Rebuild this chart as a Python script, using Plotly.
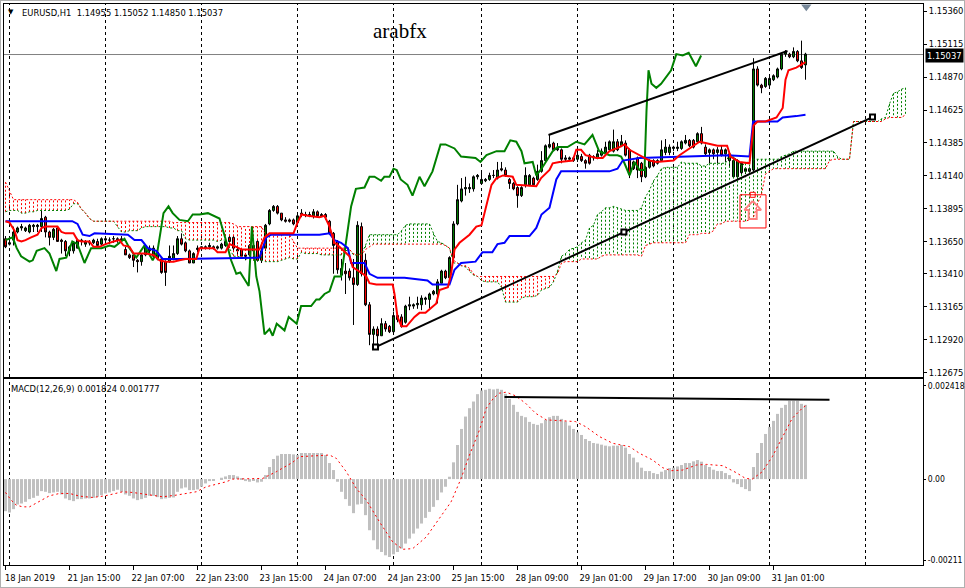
import plotly.graph_objects as go

# ---------- data (prices in pips, 1 pip = 0.0001) ----------
OPEN = [11367,11363,11366,11372,11375,11373,11372,11376,11376,11376,
11383,11372,11368,11375,11366,11365,11358,11358,11360,11365,
11363,11364,11364,11365,11363,11366,11366,11367,11367,11367,
11359,11355,11355,11351,11350,11355,11360,11354,11352,11352,
11350,11350,11352,11356,11367,11364,11358,11349,11359,11360,
11360,11361,11360,11360,11360,11362,11365,11368,11359,11359,
11355,11355,11362,11365,11351,11360,11378,11388,11391,11386,
11381,11381,11381,11379,11385,11385,11385,11384,11387,11385,
11385,11380,11371,11365,11340,11343,11343,11338,11333,11376,
11351,11318,11296,11300,11295,11304,11302,11298,11310,11309,
11305,11317,11317,11318,11318,11322,11322,11326,11326,11334,
11343,11338,11353,11378,11395,11404,11404,11404,11413,11408,
11410,11411,11414,11412,11419,11418,11411,11408,11405,11399,
11407,11407,11412,11411,11417,11425,11435,11438,11433,11433,
11427,11426,11425,11426,11428,11425,11429,11428,11427,11429,
11431,11433,11432,11439,11436,11438,11433,11424,11427,11423,
11413,11420,11425,11423,11425,11431,11431,11434,11434,11434,
11438,11440,11440,11439,11445,11435,11431,11433,11431,11433,
11430,11430,11413,11413,11416,11417,11419,11418,11493,11481,
11480,11481,11485,11487,11493,11504,11504,11502,11506,11499,11496]
HIGH = [11369,11368,11376,11376,11378,11376,11378,11378,11378,11388,
11384,11373,11375,11376,11367,11366,11362,11365,11367,11367,
11366,11366,11367,11367,11368,11369,11368,11369,11368,11369,
11361,11356,11356,11352,11356,11363,11362,11362,11360,11353,
11351,11362,11362,11369,11371,11365,11359,11357,11362,11361,
11362,11364,11362,11362,11364,11366,11369,11369,11362,11360,
11356,11363,11363,11366,11360,11378,11389,11392,11392,11386,
11383,11382,11382,11385,11389,11387,11387,11389,11388,11386,
11386,11381,11372,11366,11352,11349,11345,11352,11380,11379,
11356,11320,11302,11302,11308,11306,11303,11313,11312,11311,
11318,11324,11319,11324,11325,11324,11327,11329,11337,11344,
11344,11354,11380,11407,11412,11413,11408,11414,11415,11417,
11412,11416,11418,11424,11424,11420,11412,11409,11406,11406,
11420,11415,11413,11422,11432,11437,11444,11439,11438,11434,
11429,11428,11428,11433,11430,11426,11430,11429,11433,11434,
11439,11440,11448,11441,11444,11440,11434,11425,11428,11424,
11421,11426,11426,11426,11440,11441,11437,11436,11439,11440,
11444,11441,11441,11446,11450,11437,11434,11434,11435,11436,
11434,11431,11426,11426,11424,11420,11420,11501,11495,11482,
11487,11487,11489,11494,11505,11507,11505,11509,11507,11514,11505]
LOW = [11360,11362,11362,11371,11373,11372,11371,11372,11372,11372,
11368,11362,11366,11365,11356,11354,11354,11356,11360,11362,
11361,11362,11363,11361,11362,11363,11363,11364,11364,11364,
11355,11352,11346,11342,11347,11354,11354,11352,11351,11341,
11332,11349,11351,11355,11362,11357,11349,11349,11357,11358,
11359,11359,11359,11359,11359,11361,11364,11358,11354,11352,
11351,11354,11351,11350,11349,11358,11377,11387,11385,11380,
11379,11379,11377,11378,11383,11383,11383,11382,11383,11383,
11381,11370,11341,11341,11336,11326,11336,11303,11332,11339,
11317,11288,11288,11286,11295,11298,11297,11297,11305,11301,
11304,11314,11315,11315,11314,11318,11315,11325,11319,11334,
11337,11338,11352,11377,11394,11399,11401,11402,11411,11407,
11409,11410,11412,11411,11417,11413,11404,11403,11390,11398,
11405,11406,11406,11410,11416,11424,11434,11432,11432,11423,
11424,11425,11424,11424,11424,11419,11422,11425,11426,11428,
11430,11432,11431,11432,11435,11428,11412,11418,11412,11409,
11412,11419,11420,11422,11424,11429,11429,11432,11432,11433,
11437,11435,11434,11438,11437,11429,11423,11426,11423,11428,
11424,11420,11412,11411,11415,11415,11416,11417,11480,11475,
11479,11480,11484,11486,11492,11502,11501,11501,11498,11493,11485]
CLOSE = [11361,11364,11372,11375,11376,11375,11377,11377,11377,11382,
11372,11368,11374,11365,11365,11358,11361,11364,11366,11366,
11365,11364,11366,11362,11367,11367,11366,11367,11366,11366,
11355,11353,11351,11350,11355,11361,11358,11360,11357,11342,
11342,11354,11356,11367,11363,11358,11349,11356,11360,11361,
11361,11362,11361,11361,11363,11365,11368,11360,11358,11354,
11354,11362,11358,11351,11358,11377,11388,11391,11386,11381,
11380,11380,11378,11384,11386,11385,11384,11387,11384,11384,
11383,11371,11362,11344,11345,11341,11338,11333,11377,11341,
11318,11296,11300,11295,11304,11300,11298,11310,11307,11302,
11317,11318,11318,11319,11323,11323,11326,11328,11335,11343,
11338,11353,11378,11396,11404,11405,11405,11413,11414,11411,
11411,11414,11414,11418,11418,11414,11408,11404,11399,11405,
11414,11414,11407,11417,11425,11436,11437,11433,11434,11426,
11426,11427,11427,11429,11425,11423,11423,11427,11430,11432,
11435,11439,11439,11433,11439,11429,11415,11419,11418,11413,
11420,11425,11421,11425,11433,11435,11435,11435,11435,11439,
11440,11436,11435,11445,11438,11430,11433,11430,11433,11429,
11433,11425,11425,11425,11423,11419,11417,11493,11481,11479,
11486,11486,11488,11493,11504,11506,11502,11506,11499,11494,11504]

TENKAN_BAR = [0,1,2.25,3,4,5,6.4,8,9,10,13,14,15,17,18,19,21,22,23.5,25,27,28.5,29.5,31,32,35,37,38.5,40,42,43.5,45,47.7,48.5,52,53,55,56,57.7,59,63.5,64.75,66,72,73,74,75.6,78.5,
79.75,81,82.25,83.5,86,86.8,89.3,90.2,91,92.7,96.8,97.25,98,99,100.25,102.25,103.5,105,107.7,108.5,110.6,111.4,112.25,113.5,116,117.7,119,120.25,121.5,122.75,124.4,126.8,127.7,132.7,133.9,136,136.8,138.5,141.8,142.7,143.9,145,147.7,149.3,151,153.5,154.75,156,158.5,
161,162.7,167,168.5,171,173.5,175,178,180.4,181.25,183.5,186,187,188,190,192.75,194.3,195,195.75,197.7,200]
TENKAN = [11380,11379,11373,11366,11365,11366,11368,11370,11375,11376,11376,11372,11371,11371,11366,11365,11365,11361,11361,11363,11365,11366,11362,11361,11356,11356,11355,11351,11350,11350,11351,11352,11352,11360,11360,11357,11357,11363,11361,11359,11359,11368,11371,11371,11379,11385,11384,11383,
11384,11376,11364,11361,11354,11346,11341,11339,11334,11333,11333,11326,11309,11302,11302,11309,11312,11312,11319,11329,11331,11341,11359,11364,11370,11376,11377,11393,11407,11412,11414,11413,11407,11406,11412,11418,11423,11424,11425,11433,11433,11429,11427,11427,11432,11435,11437,11433,11429,
11425,11424,11425,11429,11434,11439,11438,11436,11436,11428,11424,11423,11451,11454,11454,11457,11464,11485,11492,11494,11498]

KIJUN_BAR = [0,16.7,18,19.3,21,22.25,30.6,32.25,34,35.6,37.7,39.3,43.5,63.5,65.2,66.4,78.5,81,82.25,83.9,85.6,86.4,89.75,91,93,99.75,105.5,106.75,111,112.25,113.9,117.5,119.25,121.7,123,124.75,126,131,132.7,134,136,137.7,138.9,151,153,154.3,158.5,168.5,180.4,186,186.9,193,194.3,197.7,200]
KIJUN = [11380,11380,11378,11370,11369,11371,11370,11366,11366,11360,11358,11352,11352,11353,11368,11370,11370,11371,11366,11364,11360,11349,11349,11341,11338,11338,11336,11333,11333,11344,11349,11350,11357,11357,11363,11364,11369,11369,11375,11385,11390,11411,11417,11417,11419,11425,11427,11428,11429,11428,11454,11454,11457,11458,11459]

CHIKOU_BAR = [0,1.8,2.8,3.9,6,6.8,7.8,9.75,11,12.7,13.5,15.2,16.7,18,19.75,21.4,24,26,27.25,29.75,31,32.7,34.75,36.8,38,39.5,40.75,41.8,43.5,45.6,46.8,48.5,50.6,53.5,55,56.4,57.7,58.7,60.8,61.6,62.7,63.5,64.75,66,66.8,67.8,69.75,70.8,72.8,73.9,76.4,77.7,
78.5,79.75,81,82.25,83.9,85,86.4,87.6,89.75,91,92.25,93.9,94.7,96,97,97.8,98.8,100.5,101.75,103.5,104.75,106.75,108.75,110,112.25,113.9,117.5,118.75,120.25,122.75,124.75,126.2,127.7,129,129.75,131.8,132.7,134,135.25,136.8,138,140.5,142.7,144.75,146.75,148.4,151,153,153.9,154.75,156,157.25,158.5,
159.75,160.25,160.75,161.5,162.7,163.9,165.25,166.4,167.7,169.3,170.8,172.6,173.9]
CHIKOU = [11366,11368,11360,11354,11350,11351,11358,11360,11356,11343,11352,11353,11365,11363,11349,11360,11360,11362,11361,11367,11360,11353,11362,11351,11358,11386,11391,11386,11381,11380,11385,11385,11386,11382,11367,11351,11341,11342,11332,11376,11339,11328,11296,11300,11295,11304,11299,11309,11304,11317,11317,11322,
11322,11326,11328,11339,11339,11361,11391,11404,11405,11413,11413,11410,11413,11413,11419,11418,11411,11407,11399,11413,11406,11417,11437,11437,11434,11428,11427,11424,11429,11432,11432,11440,11439,11432,11423,11424,11414,11419,11425,11432,11435,11435,11439,11437,11444,11432,11429,11429,11428,11423,11414,11424,11418,
11418,11462,11492,11482,11479,11482,11487,11492,11504,11503,11505,11495,11503]

SPAN_A = [11387,11388,11388,11388,11386,11386,11387,11387,11388,11388,
11388,11388,11388,11388,11388,11388,11389,11393,11393,11389,
11386,11382,11380,11380,11380,11380,11380,11380,11376,11372,
11372,11373,11373,11373,11375,11376,11376,11376,11376,11376,
11376,11375,11375,11373,11373,11367,11366,11366,11366,11366,
11366,11366,11366,11365,11366,11366,11360,11354,11354,11353,
11352,11352,11351,11351,11351,11350,11350,11350,11350,11351,
11352,11353,11352,11352,11357,11356,11356,11356,11356,11355,
11355,11355,11355,11355,11355,11358,11359,11355,11355,11356,
11362,11370,11370,11370,11370,11370,11370,11370,11370,11373,
11377,11378,11378,11378,11378,11378,11378,11371,11365,11364,
11362,11360,11349,11349,11347,11346,11343,11340,11339,11336,
11335,11335,11335,11335,11331,11320,11320,11320,11320,11323,
11324,11324,11324,11325,11329,11330,11331,11335,11343,11354,
11356,11359,11360,11361,11364,11366,11375,11377,11385,11387,
11390,11390,11391,11390,11389,11388,11388,11388,11388,11390,
11398,11403,11410,11414,11419,11420,11420,11420,11420,11424,
11423,11423,11423,11423,11421,11421,11423,11423,11423,11423,
11423,11430,11428,11425,11421,11423,11425,11426,11426,11426,
11426,11426,11426,11426,11428,11429,11430,11432,11432,11432,
11432,11432,11432,11432,11432,11432,11432,11432,11428,11426,
11426,11426,11454,11454,11454,11454,11454,11454,11454,11456,
11457,11467,11475,11476,11478,11479]
SPAN_B = [11409,11402,11396,11396,11396,11396,11396,11396,11396,11396,
11396,11396,11396,11396,11396,11396,11396,11396,11394,11389,
11386,11382,11380,11380,11380,11380,11380,11380,11380,11380,
11380,11380,11380,11380,11380,11380,11380,11380,11380,11380,
11380,11380,11379,11379,11379,11379,11379,11379,11379,11379,
11379,11379,11379,11379,11379,11379,11379,11378,11376,11376,
11376,11376,11376,11376,11376,11370,11370,11370,11370,11370,
11370,11370,11365,11360,11360,11360,11360,11360,11360,11360,
11360,11360,11360,11360,11360,11360,11359,11356,11355,11355,
11359,11361,11363,11363,11363,11363,11363,11363,11363,11363,
11363,11363,11363,11363,11363,11363,11363,11363,11363,11363,
11362,11360,11351,11349,11347,11347,11345,11341,11339,11339,
11339,11339,11339,11339,11339,11339,11339,11339,11339,11339,
11339,11339,11339,11339,11339,11339,11339,11339,11341,11349,
11350,11350,11350,11350,11352,11352,11352,11352,11352,11354,
11355,11355,11355,11355,11355,11355,11355,11355,11355,11354,
11362,11363,11364,11364,11364,11364,11364,11364,11364,11364,
11364,11370,11370,11370,11371,11371,11371,11373,11378,11378,
11380,11380,11380,11380,11380,11380,11381,11383,11393,11400,
11415,11417,11419,11419,11419,11419,11419,11419,11419,11419,
11419,11419,11419,11419,11419,11419,11425,11426,11426,11426,
11426,11426,11454,11454,11454,11454,11454,11454,11454,11454,
11456,11457,11457,11457,11457,11459]

# MACD values in millionths
MACD_HIST = [-832,-867,-780,-659,-633,-590,-520,-486,-434,-312,
-330,-364,-347,-330,-399,-503,-546,-572,-520,-520,
-503,-503,-486,-460,-416,-373,-347,-312,-277,-330,
-399,-434,-503,-546,-520,-486,-434,-434,-468,-520,
-503,-486,-477,-330,-243,-217,-286,-286,-269,-199,
-113,-52,-35,0,35,69,104,104,69,17,
-52,-69,-35,-87,-69,104,312,520,607,650,
650,650,641,624,676,676,676,676,676,676,
624,416,234,-69,-330,-520,-694,-884,-659,-642,
-936,-1327,-1587,-1821,-1890,-1977,-2020,-1951,-1890,-1803,
-1673,-1543,-1413,-1283,-1153,-1006,-850,-720,-546,-347,
-199,61,434,884,1300,1621,1838,2011,2202,2298,
2315,2341,2324,2341,2315,2211,2081,1925,1743,1639,
1604,1483,1431,1405,1448,1535,1604,1639,1639,1561,
1491,1387,1300,1214,1144,1040,988,936,919,893,
867,850,867,867,884,815,650,555,434,295,
208,208,156,130,191,234,286,295,329,364,
416,416,460,494,451,364,312,243,208,208,
156,104,-87,-130,-208,-260,-312,312,676,936,
1170,1353,1509,1691,1847,1925,2029,2029,2029,1951,1925]
SIGNAL_BAR = [0,1.4,2.7,4.3,6,8.5,11,13.5,16,18.5,21.8,25,29.3,31.8,35.2,39.3,42.7,47.7,50.2,55.2,56.8,64.3,67.7,71.8,73.5,81,82.7,85.2,87.7,90.2,93.5,96.8,99.3,101.8,105.2,108.5,111.4,113.9,116,118.5,120.2,122,123.5,125.2,127.5,130,132.5,135.2,139.8,142.5,145,148.5,151.8,156,158.5,161.8,164.3,166.4,169.3,172.7,175.2,179.3,182.7,185,186.7,189.2,191.7,194.2,196.7,199.2,200]
SIGNAL = [-347,-546,-676,-720,-720,-572,-433,-373,-373,-442,-477,-433,-329,-347,-399,-459,-416,-329,-199,-69,0,17,191,434,581,624,537,191,-243,-546,-1110,-1630,-1821,-1803,-1500,-1023,-589,17,624,1274,1838,2098,2228,2254,2159,1968,1708,1535,1517,1491,1361,1101,928,841,668,494,295,217,234,364,381,347,165,17,0,191,581,1101,1578,1838,1900]

PRICE_TICKS = [1.15360,1.15115,1.14870,1.14625,1.14385,1.14140,1.13895,1.13650,1.13410,1.13165,1.12920,1.12675]
MACD_TICKS = [0.002418,0.0,-0.00211]
MACD_TICK_TEXT = ["0.002418","0.00","-0.00211"]
TIME_BARS = [-0.125,15.875,31.875,47.875,63.875,79.875,95.875,111.875,127.875,143.875,159.875,175.875,191.875]
TIME_LABELS = ["18 Jan 2019","21 Jan 15:00","22 Jan 07:00","22 Jan 23:00","23 Jan 15:00","24 Jan 07:00","24 Jan 23:00","25 Jan 15:00","28 Jan 09:00","29 Jan 01:00","29 Jan 17:00","30 Jan 09:00","31 Jan 01:00"]
GRID_BARS = [1,25,49,73,97,119,143,167,191,215]
LAST_PRICE = 1.15037
UP_TREND_BAR = [135.75,195.5]
UP_TREND = [1.14440,1.15063]
LOW_TREND_BAR = [92.5,154.6,216.75]
LOW_TREND = [1.12866,1.13720,1.14573]
MACD_TREND_BAR = [124.75,206]
MACD_TREND = [0.00213,0.002055]

# ---------- layout helpers ----------
W, H = 965, 588
L, R, T, B = 4, 42, 4, 23
FONT = "DejaVu Sans Condensed, Liberation Sans"
FS = 9.3
pw, ph = W - L - R, H - T - B
def px(x): return (x - L) / pw
def py(y): return 1 - (y - T) / ph

bars = list(range(len(OPEN)))
p = lambda s: [v / 10000 for v in s]
m = lambda s: [v / 1e6 for v in s]
A, Bb = p(SPAN_A), p(SPAN_B)

fig = go.Figure()

# cloud hatching
hx = {"g": [], "r": []}
hy = {"g": [], "r": []}
for i, (a, b) in enumerate(zip(A, Bb)):
    if abs(a - b) < 0.00005:
        continue
    k = "g" if a > b else "r"
    hx[k] += [i, i, None]
    hy[k] += [a, b, None]
for k, c in (("g", "#008000"), ("r", "#ff0000")):
    fig.add_trace(go.Scatter(x=hx[k], y=hy[k], mode="lines", line=dict(color=c, width=1, dash="2px,2px"), hoverinfo="skip"))
for s, c in ((A, "#008000"), (Bb, "#ff0000")):
    fig.add_trace(go.Scatter(x=list(range(len(s))), y=s, mode="lines", line=dict(color=c, width=1, dash="2px,2px"), hoverinfo="skip"))

# candles
fig.add_trace(go.Candlestick(x=bars, open=p(OPEN), high=p(HIGH), low=p(LOW), close=p(CLOSE),
    increasing=dict(line=dict(color="#000000", width=1), fillcolor="#008000"),
    decreasing=dict(line=dict(color="#000000", width=1), fillcolor="#ff0000"),
    whiskerwidth=0))

# ichimoku lines
for bx, s, c in ((CHIKOU_BAR, CHIKOU, "#008000"), (KIJUN_BAR, KIJUN, "#0000ff"), (TENKAN_BAR, TENKAN, "#ff0000")):
    fig.add_trace(go.Scatter(x=bx, y=p(s), mode="lines", line=dict(color=c, width=2), hoverinfo="skip"))

# trend lines
fig.add_trace(go.Scatter(x=UP_TREND_BAR, y=UP_TREND, mode="lines", line=dict(color="#000000", width=2), hoverinfo="skip"))
fig.add_trace(go.Scatter(x=LOW_TREND_BAR, y=LOW_TREND, mode="lines+markers", line=dict(color="#000000", width=2),
    marker=dict(symbol="square", size=5, color="#ffffff", line=dict(color="#000000", width=2)), hoverinfo="skip"))

# arrow object
ARROW_BAR = [186.8,184.75,185.8,185.8,187.8,187.8,188.9,186.8]
ARROW = [1.13950,1.13884,1.13884,1.13817,1.13817,1.13884,1.13884,1.13950]
fig.add_trace(go.Scatter(x=ARROW_BAR, y=ARROW, mode="lines", line=dict(color="#ff8080", width=2), hoverinfo="skip"))
fig.add_trace(go.Scatter(x=[186.8], y=[1.13996], mode="markers", marker=dict(symbol="square", size=5, color="#ffffff", line=dict(color="#ff0000", width=1)), hoverinfo="skip"))
fig.add_trace(go.Scatter(x=[200.2], y=[1.15392], mode="markers", marker=dict(symbol="triangle-down", size=9, color="#778899"), hoverinfo="skip"))

# macd
fig.add_trace(go.Bar(x=bars, y=m(MACD_HIST), marker=dict(color="#c0c0c0", line=dict(width=0)), width=0.75, xaxis="x2", yaxis="y2", hoverinfo="skip"))
fig.add_trace(go.Scatter(x=SIGNAL_BAR, y=m(SIGNAL), mode="lines", line=dict(color="#ff0000", width=1, dash="2px,3px"), xaxis="x2", yaxis="y2", hoverinfo="skip"))
fig.add_trace(go.Scatter(x=MACD_TREND_BAR, y=MACD_TREND, mode="lines", line=dict(color="#000000", width=2), xaxis="x2", yaxis="y2", hoverinfo="skip"))

shapes = []
for b in GRID_BARS:
    for xr, yr in (("x", "y"), ("x2", "y2")):
        shapes.append(dict(type="line", xref=xr, yref=yr + " domain", x0=b, x1=b, y0=0, y1=1, layer="below",
                           line=dict(color="#000000", width=1, dash="3px,3px")))
shapes.append(dict(type="line", xref="paper", yref="y", x0=0, x1=1, y0=LAST_PRICE, y1=LAST_PRICE, layer="below", line=dict(color="#808080", width=1)))
shapes.append(dict(type="rect", xref="x", yref="y", x0=183.625, x1=190.125, y0=1.13750, y1=1.13996, line=dict(color="#ff0000", width=1)))
# window edge
shapes.append(dict(type="rect", xref="paper", yref="paper", x0=px(0), x1=px(965), y0=py(588), y1=py(0), layer="below", line=dict(color="#b0b0b0", width=2)))

ann = [
    dict(x=px(20), y=py(12), text="EURUSD,H1  1.14955 1.15052 1.14850 1.15037", xanchor="left", font=dict(size=FS, family=FONT, color="#000000")),
    dict(x=px(11), y=py(12.5), text="▼", xanchor="center", font=dict(size=7, family="DejaVu Sans", color="#000000")),
    dict(x=px(9), y=py(388), text="MACD(12,26,9) 0.001824 0.001777", xanchor="left", font=dict(size=FS, family=FONT, color="#000000")),
    dict(x=px(400), y=py(31), text="arabfx", xanchor="center", font=dict(size=21, family="Liberation Serif", color="#000000")),
    dict(x=px(944.5), y=py(55), text="1.15037", xanchor="center", bgcolor="#000000", borderpad=1, font=dict(size=FS, family=FONT, color="#ffffff")),
]
for a in ann:
    a.update(xref="paper", yref="paper", yanchor="middle", showarrow=False)

xbase = dict(range=[-0.375, 229.375], showgrid=False, zeroline=False, showline=True, mirror=True, linecolor="#000000", linewidth=1, rangeslider=dict(visible=False), automargin=False)
ybase = dict(side="right", showgrid=False, zeroline=False, showline=True, mirror=True, linecolor="#000000", linewidth=1, automargin=False,
             ticks="outside", ticklen=3, tickcolor="#000000", tickfont=dict(size=FS, family=FONT, color="#000000"))
d = (565 - 379) / ph
d2 = (565 - 377) / ph
fig.update_layout(
    width=W, height=H, margin=dict(l=L, r=R, t=T, b=B, pad=0), autosize=False,
    paper_bgcolor="#ffffff", plot_bgcolor="#ffffff", showlegend=False,
    hovermode=False, bargap=0.25,
    xaxis=dict(xbase, domain=[0, 1], anchor="y", showticklabels=False, ticks=""),
    xaxis2=dict(xbase, domain=[0, 1], anchor="y2", matches="x", tickmode="array", tickvals=TIME_BARS, ticktext=TIME_LABELS,
                ticks="outside", ticklen=4, tickcolor="#000000", ticklabelshift=25, tickangle=0,
                tickfont=dict(size=FS, family=FONT, color="#000000")),
    yaxis=dict(ybase, domain=[d2, 1], anchor="x", range=[1.12644, 1.15412], tickmode="array", tickvals=PRICE_TICKS,
               ticktext=["%.5f" % v for v in PRICE_TICKS]),
    yaxis2=dict(ybase, domain=[0, d], anchor="x2", range=[-0.002228, 0.002595], tickmode="array", tickvals=MACD_TICKS, ticktext=MACD_TICK_TEXT,
                ticklen=2, tickfont=dict(size=8.6, family=FONT, color="#000000")),
    shapes=shapes, annotations=ann,
)
fig.write_html("out.html", config={"displayModeBar": False},
    post_script="document.body.style.margin='0';document.documentElement.style.overflow='hidden';var g=document.getElementById('{plot_id}');g.style.position='absolute';g.style.left='0';g.style.top='0';")
